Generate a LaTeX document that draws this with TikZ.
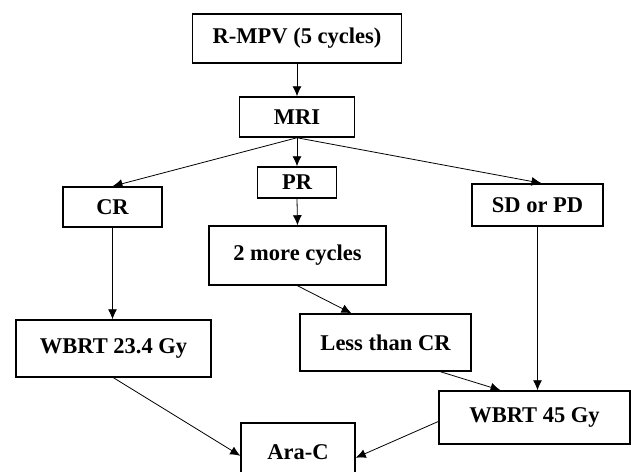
\documentclass[tikz,border=0pt]{standalone}
\usepackage{fontspec}
\setmainfont{Liberation Serif}
\usetikzlibrary{arrows.meta}
\begin{document}
\begin{tikzpicture}[x=1pt,y=-1pt,
  box/.style={draw=black,line width=1.5pt,fill=white,inner sep=0pt,font=\fontsize{22.5}{26}\selectfont\bfseries},
  arr/.style={draw=black,line width=0.8pt,-{Latex[length=10pt,width=9pt]}}]
\useasboundingbox (0,0) rectangle (631,471);
\fill[white] (0,0) rectangle (631,471);
\node[box,minimum width=209pt,minimum height=49pt] (rmpv) at (297,38.5) {R-MPV (5 cycles)};
\node[box,minimum width=115pt,minimum height=40pt] (mri) at (297,117) {MRI};
\node[box,minimum width=79pt,minimum height=31pt] (pr) at (297,182.5) {PR};
\node[box,minimum width=99pt,minimum height=40pt] (cr) at (112.5,207) {CR};
\node[box,minimum width=177pt,minimum height=59pt] (more) at (297.5,255.5) {2 more cycles};
\node[box,minimum width=131pt,minimum height=42pt] (sd) at (537.5,205) {SD or PD};
\node[box,minimum width=195pt,minimum height=57pt] (wb23) at (113.5,348.5) {WBRT 23.4 Gy};
\node[box,minimum width=171pt,minimum height=57pt] (less) at (385.5,342.5) {Less than CR};
\node[box,minimum width=191pt,minimum height=53pt] (wb45) at (534.5,417.5) {WBRT 45 Gy};
\node[box,minimum width=114pt,minimum height=58pt,anchor=north] (arac) at (298,422) {Ara-C};
\draw[arr] (rmpv.south) -- (mri.north);
\draw[arr] (mri.south) -- (pr.north);
\draw[arr] (mri.south) -- (cr.north);
\draw[arr] (mri.south) -- ([xshift=4pt]sd.north);
\draw[arr] (pr.south) -- (more.north);
\draw[arr] (cr.south) -- (cr.south |- wb23.north);
\draw[arr] (sd.south) -- (sd.south |- wb45.north);
\draw[arr] (more.south) -- ([xshift=-34pt]less.north);
\draw[arr] ([xshift=55pt]less.south) -- ([xshift=-34pt]wb45.north);
\draw[arr] (wb23.south) -- ([yshift=-4pt]arac.west);
\draw[arr] ([yshift=-4pt]wb45.west) -- ([yshift=-6pt]arac.east);
\end{tikzpicture}
\end{document}
